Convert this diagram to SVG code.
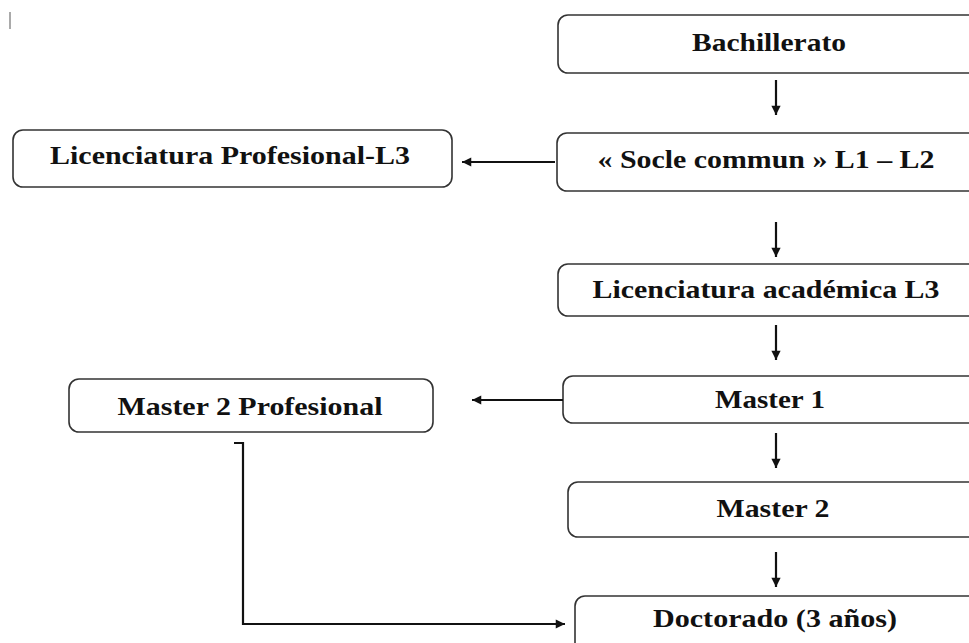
<svg xmlns="http://www.w3.org/2000/svg" width="969" height="643" viewBox="0 0 969 643">
<style>
.box{fill:#fff;stroke:#333;stroke-width:1.6}
.t{font-family:"Liberation Serif","Times New Roman",serif;font-weight:bold;font-size:26px;fill:#111;text-anchor:middle}
.c{fill:none;stroke:#111;stroke-width:2.2}
</style>
<defs>
<marker id="ah" viewBox="0 0 10 10" refX="10" refY="5" markerWidth="4.6" markerHeight="4.2" orient="auto" markerUnits="strokeWidth">
<path d="M0,0 L10,5 L0,10 z" fill="#111"/>
</marker>
</defs>
<rect width="969" height="643" fill="#fff"/>
<line x1="10" y1="12" x2="10" y2="29" stroke="#aaa" stroke-width="2"/>

<g id="bachillerato"><rect class="box" x="558" y="15" width="430" height="58" rx="10"/><text class="t" x="769" y="51" textLength="154" lengthAdjust="spacingAndGlyphs">Bachillerato</text></g>
<g id="socle"><rect class="box" x="557" y="133" width="430" height="58" rx="10"/><text class="t" x="766" y="168" textLength="337" lengthAdjust="spacingAndGlyphs">« Socle commun » L1 – L2</text></g>
<g id="licprof"><rect class="box" x="13" y="130" width="439" height="57" rx="10"/><text class="t" x="230" y="164" textLength="360" lengthAdjust="spacingAndGlyphs">Licenciatura Profesional-L3</text></g>
<g id="licacad"><rect class="box" x="558" y="264" width="430" height="52" rx="10"/><text class="t" x="766" y="298" textLength="347" lengthAdjust="spacingAndGlyphs">Licenciatura académica L3</text></g>
<g id="master1"><rect class="box" x="563" y="376" width="430" height="47" rx="10"/><text class="t" x="770" y="408" textLength="110" lengthAdjust="spacingAndGlyphs">Master 1</text></g>
<g id="master2prof"><rect class="box" x="69" y="379" width="364" height="53" rx="10"/><text class="t" x="250" y="415" textLength="265" lengthAdjust="spacingAndGlyphs">Master 2 Profesional</text></g>
<g id="master2"><rect class="box" x="568" y="482" width="430" height="55" rx="10"/><text class="t" x="773" y="517" textLength="113" lengthAdjust="spacingAndGlyphs">Master 2</text></g>
<g id="doctorado"><rect class="box" x="575" y="596" width="430" height="70" rx="10"/><text class="t" x="775" y="627" textLength="244" lengthAdjust="spacingAndGlyphs">Doctorado (3 años)</text></g>

<g id="connectors">
<line class="c" x1="776" y1="80" x2="776" y2="115" marker-end="url(#ah)"/>
<line class="c" x1="776" y1="222" x2="776" y2="257" marker-end="url(#ah)"/>
<line class="c" x1="776" y1="325" x2="776" y2="360" marker-end="url(#ah)"/>
<line class="c" x1="776" y1="433" x2="776" y2="468" marker-end="url(#ah)"/>
<line class="c" x1="776" y1="552" x2="776" y2="587" marker-end="url(#ah)"/>
<line class="c" x1="555" y1="162" x2="462" y2="162" marker-end="url(#ah)"/>
<line class="c" x1="563" y1="400" x2="472" y2="400" marker-end="url(#ah)"/>
<polyline class="c" points="234,443 243,443 243,624 565,624" marker-end="url(#ah)"/>
</g>
</svg>
